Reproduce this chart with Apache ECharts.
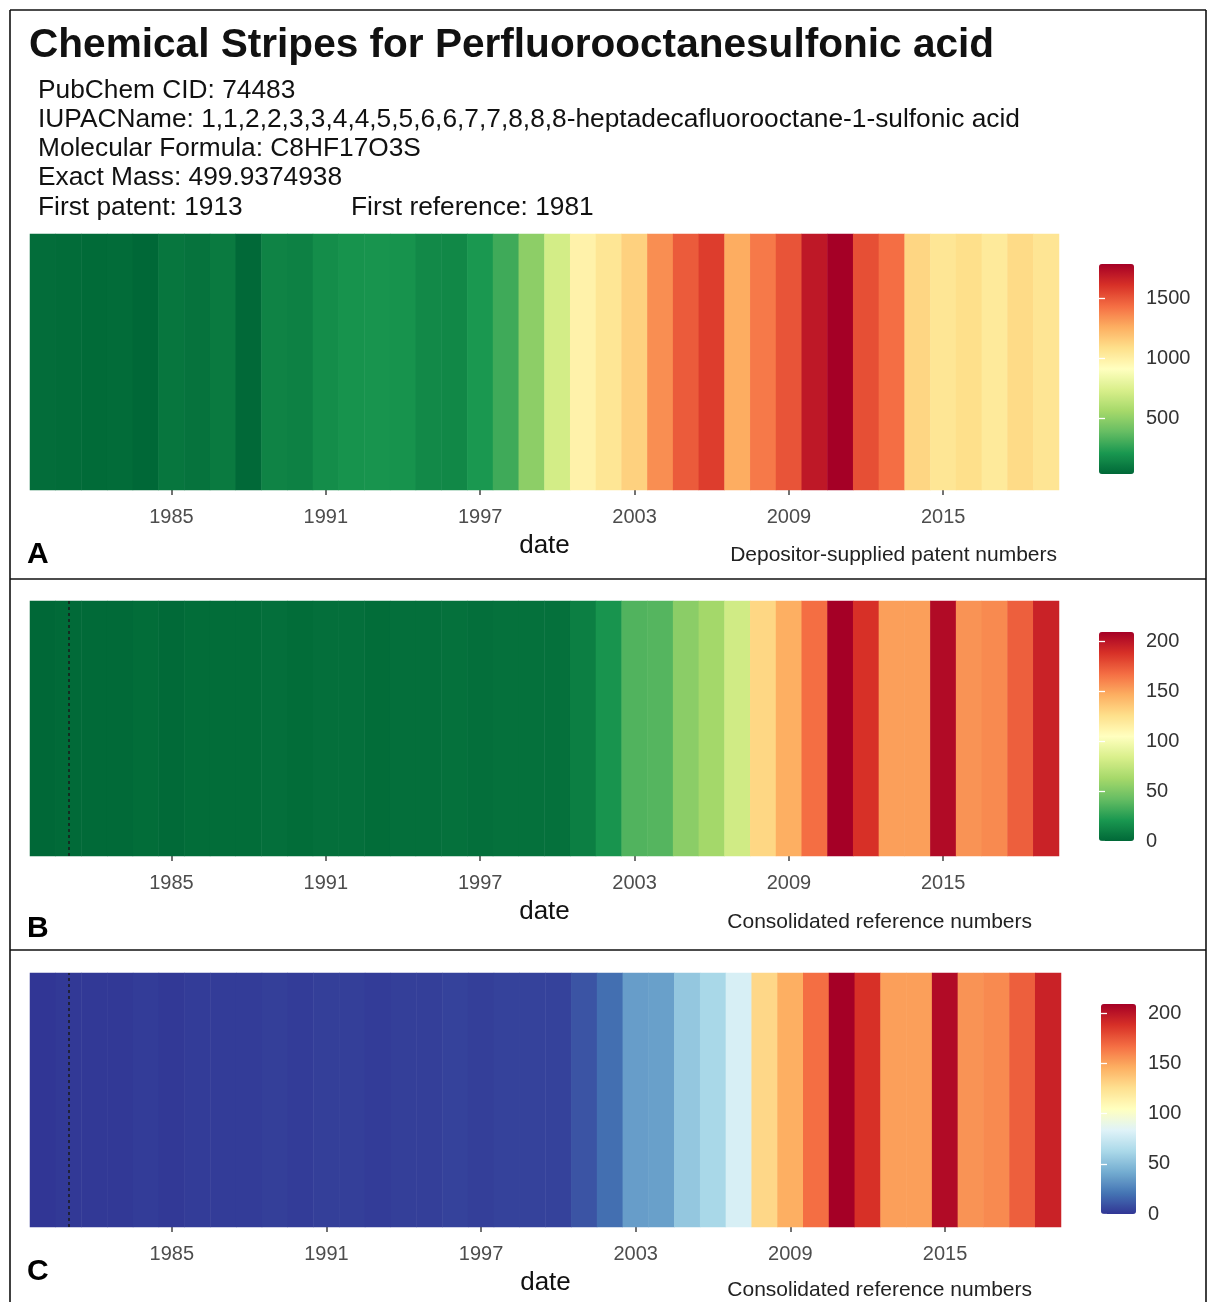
<!DOCTYPE html>
<html><head><meta charset="utf-8">
<script src="https://cdn.jsdelivr.net/npm/echarts@6/dist/echarts.min.js"></script>
<style>html,body{margin:0;padding:0;background:#fff}#c{width:1207px;height:1302px}</style>
</head><body><div id="c"></div>
<script>
// ---- data ----
const years = ['1980','1981','1982','1983','1984','1985','1986','1987','1988','1989',
  '1990','1991','1992','1993','1994','1995','1996','1997','1998','1999',
  '2000','2001','2002','2003','2004','2005','2006','2007','2008','2009',
  '2010','2011','2012','2013','2014','2015','2016','2017','2018','2019'];
const patentCounts = [55,50,45,48,35,85,75,100,40,135,
  125,170,190,195,190,155,150,210,295,490,
  715,980,1050,1135,1345,1485,1570,1260,1400,1505,
  1695,1783,1520,1430,1118,1050,1083,1030,1100,1055];
const referenceCounts = [0,1,1,1,2,1,2,2,2,3,
  2,3,3,2,3,3,4,3,4,4,
  4,10,19,36,37,54,62,80,129,146,
  167,209,188,151,151,204,155,158,172,194];
const tickYears = ['1985','1991','1997','2003','2009','2015'];
const patentLegendTicks = [500,1000,1500];
const referenceLegendTicks = [0,50,100,150,200];
const firstReferenceYear = '1981';
const titleText = 'Chemical Stripes for Perfluorooctanesulfonic acid';
const infoLines = ['PubChem CID: 74483',
  'IUPACName: 1,1,2,2,3,3,4,4,5,5,6,6,7,7,8,8,8-heptadecafluorooctane-1-sulfonic acid',
  'Molecular Formula: C8HF17O3S',
  'Exact Mass: 499.9374938',
  'First patent: 1913'];
const firstRefText = 'First reference: 1981';
const RdYlGn = ['#006837','#1a9850','#66bd63','#a6d96a','#d9ef8b','#ffffbf','#fee08b','#fdae61','#f46d43','#d73027','#a50026'];
const RdYlBu = ['#313695','#4575b4','#74add1','#abd9e9','#e0f3f8','#ffffbf','#fee090','#fdae61','#f46d43','#d73027','#a50026'];

// ---- layout ----
const FONT = '"Liberation Sans", Arial, sans-serif';
const panels = [
  {letter:'A', caption:'Depositor-supplied patent numbers', capX:1057, capY:555, letterY:555,
   grid:{left:30, top:234, width:1029, height:256}, data:patentCounts, colors:RdYlGn,
   cb:{left:1099, top:264, width:35, height:210}, ticks:patentLegendTicks, mark:null},
  {letter:'B', caption:'Consolidated reference numbers', capX:1032, capY:922, letterY:929,
   grid:{left:30, top:601, width:1029, height:255}, data:referenceCounts, colors:RdYlGn,
   cb:{left:1099, top:632, width:35, height:209}, ticks:referenceLegendTicks, mark:firstReferenceYear},
  {letter:'C', caption:'Consolidated reference numbers', capX:1032, capY:1290, letterY:1272,
   grid:{left:30, top:973, width:1031, height:254}, data:referenceCounts, colors:RdYlBu,
   cb:{left:1101, top:1004, width:35, height:210}, ticks:referenceLegendTicks, mark:firstReferenceYear}
];

const grid = [], xAxis = [], yAxis = [], series = [], visualMap = [];
const isTick = (idx, val) => tickYears.indexOf(String(val)) >= 0;
panels.forEach((p, i) => {
  const vmin = Math.min.apply(null, p.data), vmax = Math.max.apply(null, p.data);
  // heatmap grid
  const gH = grid.length;
  grid.push(Object.assign({containLabel:false}, p.grid));
  xAxis.push({type:'category', gridIndex:gH, data:years,
    axisLine:{show:false}, splitLine:{show:false},
    axisTick:{show:true, alignWithLabel:true, interval:isTick, length:5, lineStyle:{color:'#444', width:1.5}},
    axisLabel:{interval:isTick, margin:17, fontSize:20, color:'#4d4d4d', fontFamily:FONT},
    name:'date', nameLocation:'middle', nameGap:43,
    nameTextStyle:{fontSize:26, color:'#111', fontFamily:FONT}});
  const xH = xAxis.length - 1;
  yAxis.push({type:'category', gridIndex:gH, data:['v'], show:false});
  const yH = yAxis.length - 1;
  const s = {type:'heatmap', xAxisIndex:xH, yAxisIndex:yH,
    data:p.data.map((v, k) => [k, 0, v]), silent:true, emphasis:{disabled:true},
    itemStyle:{borderWidth:0}};
  if (p.mark) {
    s.markLine = {silent:true, symbol:'none', label:{show:false},
      lineStyle:{color:'#1a1a1a', type:[3,3], width:1.5},
      data:[{xAxis:p.mark}]};
  }
  series.push(s);
  visualMap.push({type:'continuous', seriesIndex:series.length-1, min:vmin, max:vmax,
    inRange:{color:p.colors}, calculable:false, hoverLink:false, padding:0, z:2,
    left:p.cb.left, top:p.cb.top, itemWidth:p.cb.width, itemHeight:p.cb.height,
    orient:'vertical', show:true});
  // colorbar axis grid
  const gC = grid.length;
  grid.push({left:p.cb.left, top:p.cb.top, width:p.cb.width, height:p.cb.height, containLabel:false});
  xAxis.push({type:'value', gridIndex:gC, show:false, min:0, max:1});
  const tickCfg = {show:true, inside:true, length:6, lineStyle:{color:'#ffffff', width:1.3}, customValues:p.ticks};
  yAxis.push({type:'value', gridIndex:gC, position:'right', min:vmin, max:vmax, z:20,
    axisLine:{show:false}, splitLine:{show:false}, axisTick:tickCfg,
    axisLabel:{customValues:p.ticks, margin:12, fontSize:20, color:'#333', fontFamily:FONT,
      formatter:(v) => String(v)}});
  yAxis.push({type:'value', gridIndex:gC, position:'left', min:vmin, max:vmax, z:20,
    axisLine:{show:false}, splitLine:{show:false}, axisTick:tickCfg,
    axisLabel:{show:false}});
});

// ---- texts and frame ----
const graphic = [];
const line = (x1,y1,x2,y2) => graphic.push({type:'line', silent:true,
  shape:{x1,y1,x2,y2}, style:{stroke:'#111', lineWidth:1.6}});
line(10,10,1206,10); line(10,10,10,1302); line(1206,10,1206,1302);
line(10,579,1206,579); line(10,950,1206,950);
const text = (x, y, str, font, fill, align) => graphic.push({type:'text', silent:true, x, y,
  style:{text:str, font, fill, textAlign:align || 'left', textVerticalAlign:'middle'}});
text(29, 46, titleText, 'bold 40.6px ' + FONT, '#111');
const infoY = [91,120,149,178,208];
infoLines.forEach((t, k) => text(38, infoY[k], t, '26.3px ' + FONT, '#111'));
text(351, 208, firstRefText, '26.3px ' + FONT, '#111');
panels.forEach(p => {
  text(27, p.letterY, p.letter, 'bold 30px ' + FONT, '#000');
  text(p.capX, p.capY, p.caption, '21px ' + FONT, '#222', 'right');
});

const chart = echarts.init(document.getElementById('c'), null, {renderer:'canvas'});
chart.setOption({animation:false, backgroundColor:'#fff', grid, xAxis, yAxis, series, visualMap, graphic});
</script></body></html>
